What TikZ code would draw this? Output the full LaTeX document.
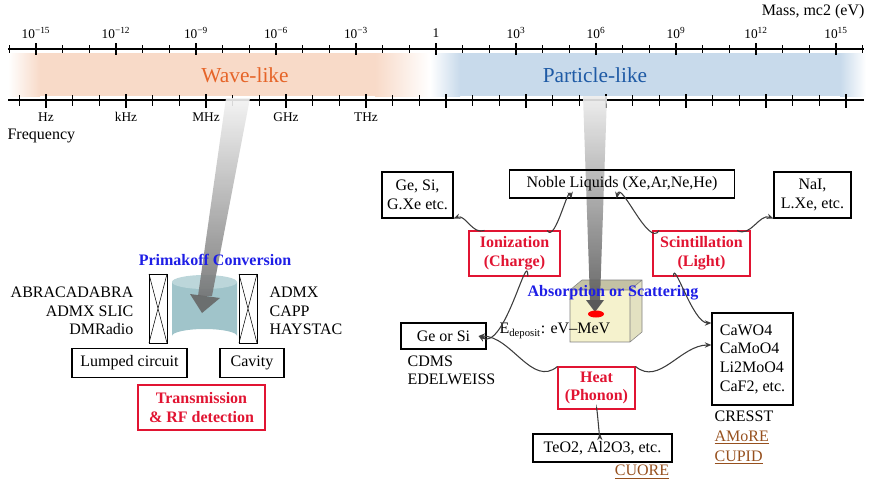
\documentclass[tikz,border=0pt]{standalone}
\usepackage{fontspec}
\setmainfont{Liberation Serif}
\usetikzlibrary{arrows.meta,positioning}
\definecolor{wavebg}{RGB}{248,218,200}
\definecolor{partbg}{RGB}{200,218,235}
\definecolor{wavefg}{RGB}{230,100,40}
\definecolor{partfg}{RGB}{30,90,165}
\definecolor{redbox}{RGB}{225,20,50}
\definecolor{bluetxt}{RGB}{30,30,230}
\definecolor{brownlink}{RGB}{150,80,30}
\definecolor{cylcol}{RGB}{160,196,202}
\definecolor{cubecol}{RGB}{245,242,205}
\definecolor{arrcol}{RGB}{60,60,60}
\tikzset{
  box/.style={draw,thick,inner sep=3pt,font=\fontsize{12}{14}\selectfont,align=center},
  redb/.style={draw=redbox,thick,inner sep=3pt,text=redbox,font=\bfseries\fontsize{12}{14}\selectfont,align=center},
  lbl/.style={inner sep=1pt,font=\fontsize{12}{14}\selectfont},
  ticklbl/.style={inner sep=1pt,font=\fontsize{10}{12}\selectfont},
  link/.style={lbl,text=brownlink},
  conn/.style={arrcol,thick,-{Stealth[length=5pt,width=4pt,open]}},
  tick/.style={thick},
}
\begin{document}
\begin{tikzpicture}[x=0.75pt,y=0.75pt,yscale=-1,xscale=1]
\useasboundingbox (0,0) rectangle (872,487);
% bands
\shade[left color=white,right color=wavebg] (8,53) rectangle (40,96);
\fill[wavebg] (40,53) rectangle (375,96);
\shade[left color=wavebg,right color=white] (375,53) rectangle (430,96);
\shade[left color=white,right color=partbg] (430,53) rectangle (460,96);
\fill[partbg] (460,53) rectangle (840,96);
\shade[left color=partbg,right color=white] (840,53) rectangle (866,96);
\node[lbl,text=wavefg,font=\fontsize{16}{18}\selectfont] (wave) at (245,75) {Wave-like};
\node[lbl,text=partfg,font=\fontsize{16}{18}\selectfont] (part) at (595,75) {Particle-like};
% mass axis
\draw[thick] (8,49) -- (864,49);
\foreach \i/\e in {0/{−15},1/{−12},2/{−9},3/{−6},4/{−3},6/3,7/6,8/9,9/12,10/15}{
  \draw[tick] (36+80*\i,43) -- (36+80*\i,55);
  \node[ticklbl] at (36+80*\i,33) {10\textsuperscript{\e}};
}
\draw[tick] (436,43) -- (436,55);
\node[ticklbl] at (436,33) {1};
\foreach \i in {0,...,9}{
  \draw (36+80*\i+26.7,45) -- (36+80*\i+26.7,53);
  \draw (36+80*\i+53.3,45) -- (36+80*\i+53.3,53);
}
\draw (36-26.7,45) -- (36-26.7,53);
\draw (836+26.7,45) -- (836+26.7,53);
\node[lbl,anchor=east] (mass) at (866,12) {Mass, mc2 (eV)};
% frequency axis
\draw[thick] (8,100) -- (864,100);
\foreach \i/\t in {0/Hz,1/kHz,2/MHz,3/GHz,4/THz}{
  \node[ticklbl] at (46+80*\i,117) {\t};
}
\foreach \i in {0,...,10}{
  \draw[tick] (46+80*\i,94) -- (46+80*\i,108);
  \draw (46+80*\i-26.7,95) -- (46+80*\i-26.7,106);
  \draw (46+80*\i+26.7,95) -- (46+80*\i+26.7,106);
}
\node[lbl,anchor=west] (freq) at (6,136) {Frequency};
% left: Primakoff cylinder
\fill[cylcol] (172,282) -- (172,336) arc[start angle=180,end angle=360,x radius=32.5,y radius=7] -- (237,282) -- cycle;
\fill[cylcol!70!white] (204.5,282) ellipse[x radius=32.5,y radius=7];
\shade[top color=white!90!gray,bottom color=gray!90!black,opacity=0.9] (226,98) -- (250,98) -- (212,296) -- (198,296) -- cycle;
\fill[gray!80!black,opacity=0.9] (190,294) -- (220,298) -- (202,313) -- cycle;
\node[lbl,text=bluetxt,font=\bfseries\fontsize{12}{14}\selectfont] (prima) at (215,260) {Primakoff Conversion};
\foreach \cx in {158,248}{
  \draw (\cx-9,274) rectangle (\cx+9,343);
  \draw (\cx-9,274) -- (\cx+9,343) (\cx+9,274) -- (\cx-9,343);
}
\node[lbl,anchor=east,align=right] (lcexp) at (135,311) {ABRACADABRA\\ADMX SLIC\\DMRadio};
\node[lbl,anchor=west,align=left] (cavexp) at (268,311) {ADMX\\CAPP\\HAYSTAC};
\node[box,minimum width=115pt*0.75,minimum height=29pt*0.75] (lumped) at (129.5,363) {Lumped circuit};
\node[box,minimum width=64pt*0.75,minimum height=29pt*0.75] (cavity) at (252,363) {Cavity};
\node[redb,minimum width=127pt*0.75,minimum height=45pt*0.75] (trans) at (201.5,407.5) {Transmission\\\& RF detection};
% right: detector cube
\fill[cubecol!80!black] (570,290) -- (582,280) -- (642,280) -- (630,290) -- cycle;
\fill[cubecol!85!gray] (630,290) -- (642,280) -- (642,332) -- (630,342) -- cycle;
\fill[cubecol] (570,290) rectangle (630,342);
\draw[gray] (570,290) -- (582,280) -- (642,280) -- (642,332) -- (630,342) -- (570,342) -- cycle (570,290) -- (630,290) -- (630,342) (630,290) -- (642,280);
\shade[top color=white!85!gray,bottom color=gray!70!black,opacity=0.9] (583,96) -- (607,96) -- (600,300) -- (590,300) -- cycle;
\fill[gray!70!black] (586,300) -- (604,300) -- (595,312) -- cycle;
\fill[red] (596,314) ellipse[x radius=8,y radius=3.5];
\node[lbl,text=bluetxt,font=\bfseries\fontsize{12}{14}\selectfont] (absorb) at (613,293) {Absorption or Scattering};
\node[lbl,anchor=west] (edep) at (498,331) {E\textsubscript{\fontsize{8}{9}\selectfont deposit}: eV–MeV};
\node[box,minimum width=225pt*0.75,minimum height=28pt*0.75] (noble) at (622,184) {Noble Liquids (Xe,Ar,Ne,He)};
\node[box,minimum width=71pt*0.75,minimum height=46pt*0.75] (gesi) at (417.5,195) {Ge, Si,\\G.Xe etc.};
\node[box,minimum width=77pt*0.75,minimum height=46pt*0.75] (nai) at (812.5,195) {NaI,\\L.Xe, etc.};
\node[redb,minimum width=91pt*0.75,minimum height=45pt*0.75] (ion) at (514.5,253.5) {Ionization\\(Charge)};
\node[redb,minimum width=97pt*0.75,minimum height=45pt*0.75] (scint) at (701.5,253.5) {Scintillation\\(Light)};
\node[box,minimum width=85pt*0.75,minimum height=26pt*0.75] (georsi) at (443.5,336) {Ge or Si};
\node[lbl,anchor=north west,align=left] (cdms) at (406,354) {CDMS\\EDELWEISS};
\node[redb,minimum width=77pt*0.75,minimum height=42pt*0.75] (heat) at (596.5,388) {Heat\\(Phonon)};
\node[box,minimum width=81pt*0.75,minimum height=92pt*0.75,align=left] (cawo) at (752.5,359) {CaWO4\\CaMoO4\\Li2MoO4\\CaF2, etc.};
\node[lbl,anchor=north west] (cresst) at (713,409) {CRESST};
\node[link,anchor=north west] (amore) at (713,429) {\underline{AMoRE}};
\node[link,anchor=north west] (cupid) at (713,449) {\underline{CUPID}};
\node[box,minimum width=139pt*0.75,minimum height=28pt*0.75] (teo) at (602.5,448) {TeO2, Al2O3, etc.};
\node[link] (cuore) at (642,472) {\underline{CUORE}};
% connectors
\coordinate (ionA) at ([xshift=12]ion.north west);
\coordinate (ionB) at ([xshift=-10]ion.north east);
\coordinate (ionC) at ([xshift=10]ion.south);
\coordinate (scA) at ([xshift=5]scint.north west);
\coordinate (scB) at ([xshift=-10]scint.north east);
\coordinate (scC) at ([xshift=-21]scint.south);
\coordinate (cwA) at (cawo.west |- 0,323);
\coordinate (cwB) at (cawo.west |- 0,345);
\draw[conn] (ionA) to[out=160,in=-20] (gesi.south east);
\draw[conn] (ionB) to[out=60,in=-100] ([xshift=-38]noble.south);
\draw[conn] (scA) to[out=120,in=-80] ([xshift=-4]noble.south);
\draw[conn] (scB) to[out=30,in=-160] (nai.south west);
\draw[conn] (ionC) to[out=-90,in=30] ([xshift=-6]georsi.east);
\draw[conn] (scC) to[out=-90,in=180,looseness=0.8] (cwA);
\draw[conn] (heat.north west) to[out=140,in=0] ([xshift=-6]georsi.east);
\draw[conn] (heat.north east) to[out=40,in=180] (cwB);
\draw[conn] (heat.south) to[out=-90,in=90] ([xshift=-2]teo.north);
\end{tikzpicture}
\end{document}
